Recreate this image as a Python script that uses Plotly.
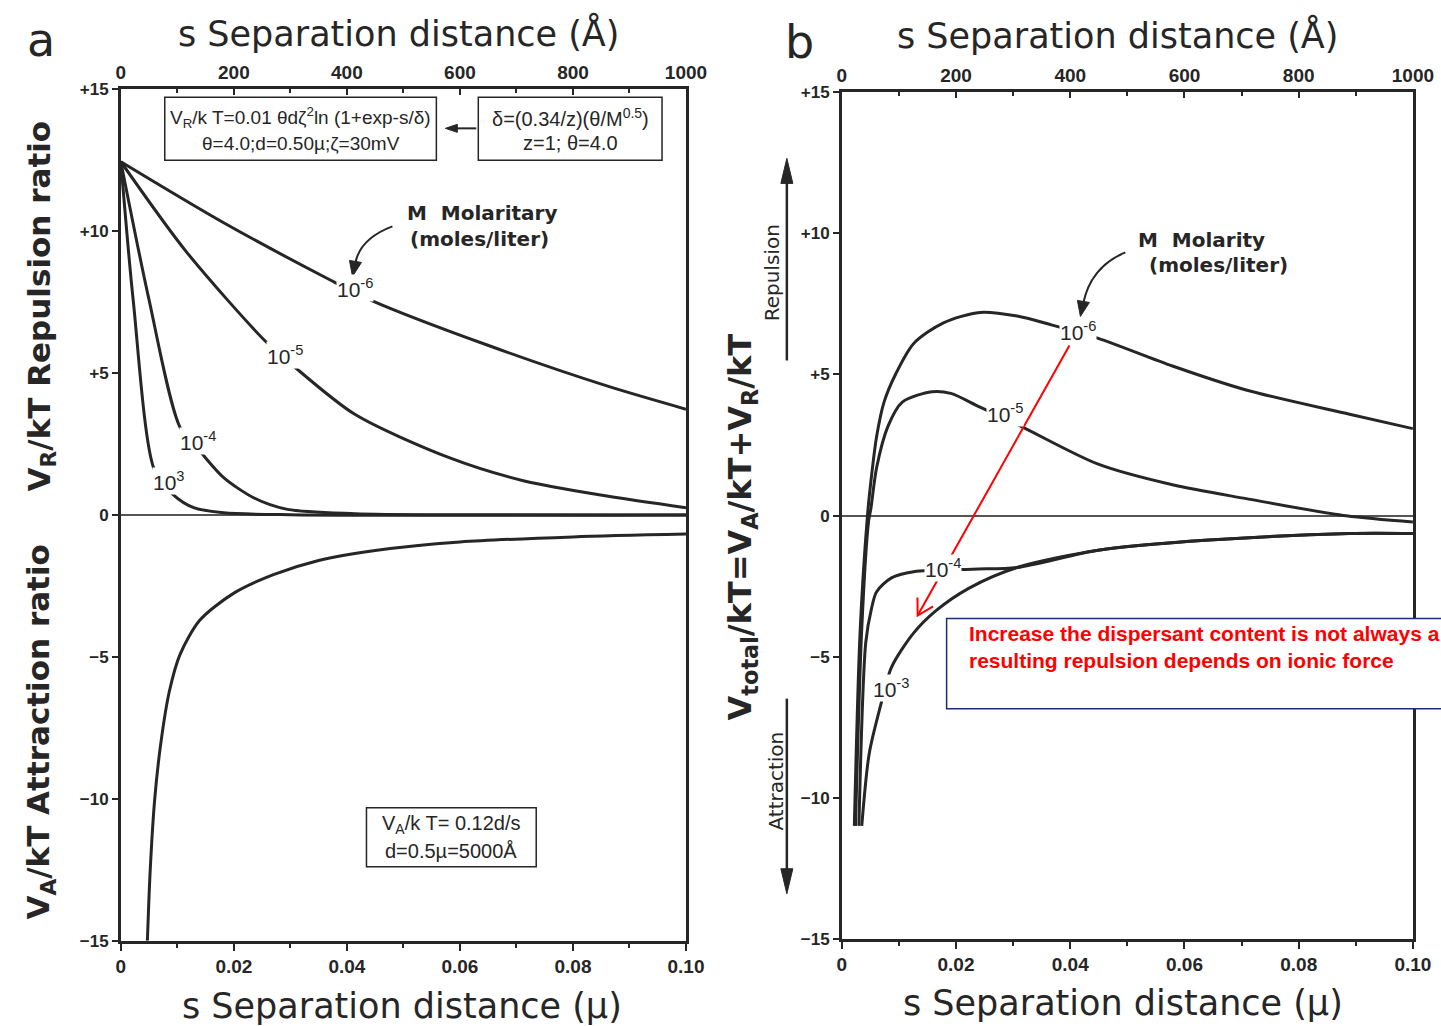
import plotly.graph_objects as go

W, H = 1441, 1026

# ---------------- data ----------------
# Panel a : repulsion V_R/kT for each molarity (x in micron)
a6_x = [0.0, 0.0182, 0.0368, 0.0445, 0.0647, 0.0860, 0.100]
a6_y = [12.45, 10.3, 8.31, 7.55, 6.0, 4.55, 3.73]
a5_x = [0.0, 0.0115, 0.0255, 0.0302, 0.0414, 0.0581, 0.0714, 0.0860, 0.100]
a5_y = [12.45, 9.3, 6.14, 5.31, 3.55, 2.02, 1.20, 0.67, 0.26]
a4_x = [0.0, 0.0049, 0.0105, 0.0142, 0.0182, 0.0235, 0.0295, 0.0414, 0.060, 0.100]
a4_y = [12.45, 7.67, 3.08, 2.20, 1.32, 0.61, 0.20, 0.05, 0.01, 0.0]
a3_x = [0.0, 0.0022, 0.0059, 0.0092, 0.0129, 0.0182, 0.030, 0.100]
a3_y = [12.45, 7.55, 1.61, 0.73, 0.26, 0.08, 0.01, 0.0]
# Panel a : attraction V_A/kT
aA_x = [0.0047, 0.0052, 0.0060, 0.0071, 0.0086, 0.0105, 0.0140, 0.020, 0.027, 0.035, 0.045, 0.060, 0.080, 0.100]
aA_y = [-15.0, -12.5, -10.0, -8.0, -6.2, -4.9, -3.7, -2.75, -2.1, -1.6, -1.25, -0.95, -0.77, -0.67]

# Panel b : total V/kT
b6_x = [0.0022, 0.0032, 0.0045, 0.0051, 0.0061, 0.0074, 0.0094, 0.0126, 0.0178, 0.0242,
        0.0307, 0.0365, 0.0449, 0.0579, 0.0708, 0.0889, 0.100]
b6_y = [-11.0, -4.16, 0.0, 1.21, 2.8, 4.02, 5.0, 6.1, 6.83, 7.2, 7.07, 6.77, 6.28, 5.30, 4.45, 3.59, 3.08]
b5_x = [0.0024, 0.0035, 0.0047, 0.0051, 0.0061, 0.0081, 0.0106, 0.0158, 0.0191, 0.0242,
        0.0313, 0.0449, 0.0579, 0.0708, 0.0883, 0.100]
b5_y = [-11.0, -4.0, -0.2, 0.25, 1.7, 3.17, 4.02, 4.39, 4.33, 3.84, 3.17, 1.82, 1.09, 0.60, -0.01, -0.23]
b4_x = [0.0030, 0.0042, 0.0052, 0.0061, 0.0087, 0.0126, 0.0229, 0.0307, 0.0449, 0.0643, 0.0889, 0.100]
b4_y = [-11.0, -4.5, -3.3, -2.7, -2.21, -1.99, -1.90, -1.84, -1.23, -0.87, -0.64, -0.64]
b3_x = [0.0035, 0.0048, 0.0068, 0.0087, 0.0126, 0.0165, 0.0223, 0.0307, 0.0449, 0.0643, 0.0889, 0.100]
b3_y = [-11.0, -8.44, -6.73, -5.38, -4.16, -3.37, -2.57, -1.84, -1.23, -0.87, -0.64, -0.64]

# curve labels: (x, y, exponent)
a_labels = [(0.0415, 8.0, "-6"), (0.0290, 5.65, "-5"), (0.0136, 2.6, "-4"), (0.0085, 1.2, "3")]
b_labels = [(0.0413, 6.55, "-6"), (0.0285, 3.65, "-5"), (0.0177, -1.85, "-4"), (0.0087, -6.1, "-3")]

x_ticks = [0, 0.02, 0.04, 0.06, 0.08, 0.10]
x_ticktext = ["0", "0.02", "0.04", "0.06", "0.08", "0.10"]
top_ticks = [0, 200, 400, 600, 800, 1000]
y_ticks = [-15, -10, -5, 0, 5, 10, 15]
y_ticktext = ["\u221215", "\u221210", "\u22125", "0", "+5", "+10", "+15"]

# ---------------- figure ----------------
# The photographed page comes out slightly scaled; positions below are in
# reference-picture pixels and are mapped back to paper fractions.
SX, OX = 0.9834, 4.0
SY, OY = 0.981, 8.7


def px(x):
    return ((x - OX) / SX) / W


def py(y):
    return 1 - ((y - OY) / SY) / H


INK = "#262626"
FONT = "Liberation Sans, Arial, sans-serif"
WIDE = "DejaVu Sans, Liberation Sans, sans-serif"

fig = go.Figure()
line = dict(color=INK, width=3, shape="spline", smoothing=0.8)
for xs, ys in [(a6_x, a6_y), (a5_x, a5_y), (a4_x, a4_y), (a3_x, a3_y), (aA_x, aA_y)]:
    fig.add_trace(go.Scatter(x=xs, y=ys, mode="lines", line=line, xaxis="x", yaxis="y",
                             showlegend=False, hoverinfo="skip"))
for xs, ys in [(b6_x, b6_y), (b5_x, b5_y), (b4_x, b4_y), (b3_x, b3_y)]:
    fig.add_trace(go.Scatter(x=xs, y=ys, mode="lines", line=line, xaxis="x2", yaxis="y2",
                             showlegend=False, hoverinfo="skip"))
# invisible traces to attach the top (Angstrom) axes
fig.add_trace(go.Scatter(x=[0, 1000], y=[0, 0], mode="lines", line=dict(width=0),
                         xaxis="x3", yaxis="y", showlegend=False, hoverinfo="skip"))
fig.add_trace(go.Scatter(x=[0, 1000], y=[0, 0], mode="lines", line=dict(width=0),
                         xaxis="x4", yaxis="y2", showlegend=False, hoverinfo="skip"))

dom_ax = [px(120), px(686)]
dom_ay = [py(940), py(89)]
dom_bx = [px(842), px(1414)]
dom_by = [py(938), py(92)]

xtickfont = dict(family=FONT, size=19, color=INK, weight="bold")
ytickfont = dict(family=FONT, size=17, color=INK, weight="bold")
xcommon = dict(range=[0, 0.1], tickvals=x_ticks, ticktext=x_ticktext, ticks="outside",
               ticklen=7, tickwidth=2, tickcolor=INK, showline=True, linecolor=INK, linewidth=2.5,
               showgrid=False, zeroline=False, tickfont=xtickfont,
               minor=dict(ticks="outside", ticklen=4, tickwidth=1.5, tickcolor=INK, dtick=0.01))
topcommon = dict(range=[0, 1000], tickvals=top_ticks, side="top", ticks="inside",
                 ticklen=6, tickwidth=2, tickcolor=INK, showline=True, linecolor=INK, linewidth=2.5,
                 showgrid=False, zeroline=False, tickfont=xtickfont,
                 minor=dict(ticks="inside", ticklen=4, tickwidth=1.5, tickcolor=INK, dtick=100))
ycommon = dict(range=[-15, 15], tickvals=y_ticks, ticktext=y_ticktext, ticks="outside",
               ticklen=6, tickwidth=2, tickcolor=INK, showline=True, linecolor=INK, linewidth=2.5,
               mirror=True, showgrid=False, zeroline=True, zerolinecolor="#555555",
               zerolinewidth=2, tickfont=ytickfont)

fig.update_layout(
    width=W, height=H, margin=dict(l=0, r=0, t=0, b=0), autosize=False,
    paper_bgcolor="white", plot_bgcolor="white",
    xaxis=dict(domain=dom_ax, anchor="y", **xcommon),
    yaxis=dict(domain=dom_ay, anchor="x", **ycommon),
    xaxis2=dict(domain=dom_bx, anchor="y2", **xcommon),
    yaxis2=dict(domain=dom_by, anchor="x2", **ycommon),
    xaxis3=dict(overlaying="x", anchor="y", **topcommon),
    xaxis4=dict(overlaying="x2", anchor="y2", **topcommon),
)

ann = []
shapes = []


def text(x, y, s, size=16, angle=0, color=INK, xanchor="center", yanchor="middle",
         bold=False, family=FONT, align="center"):
    ann.append(dict(x=px(x), y=py(y), xref="paper", yref="paper", text=s, showarrow=False,
                    textangle=angle, xanchor=xanchor, yanchor=yanchor, align=align,
                    font=dict(family=family, size=size, color=color,
                              weight="bold" if bold else "normal")))


# panel letters and axis titles
text(40, 40, "a", size=46, family=WIDE)
text(800, 42, "b", size=46, family=WIDE)
text(398, 33, "s Separation distance (\u00c5)", size=35, family=WIDE)
text(1118, 35, "s Separation distance (\u00c5)", size=35, family=WIDE)
text(402, 1005, "s Separation distance (\u00b5)", size=35, family=WIDE)
text(1124, 1002, "s Separation distance (\u00b5)", size=35, family=WIDE)
text(40, 305, "V<sub>R</sub>/kT Repulsion ratio", size=31, angle=-90, family=WIDE, bold=True)
text(40, 731, "V<sub>A</sub>/kT Attraction ratio", size=31, angle=-90, family=WIDE, bold=True)
text(742, 526, "V<sub>total</sub>/kT=V<sub>A</sub>/kT+V<sub>R</sub>/kT", size=32, angle=-90,
     family=WIDE, bold=True)
text(773, 272, "Repulsion", size=20, angle=-90, family=WIDE)
text(776, 780, "Attraction", size=20, angle=-90, family=WIDE)

# formula boxes
for (x0, y0, x1, y1) in [(164, 97, 436, 160), (478, 97, 662, 160), (366, 807, 536, 866)]:
    shapes.append(dict(type="rect", xref="paper", yref="paper", x0=px(x0), x1=px(x1),
                       y0=py(y1), y1=py(y0), line=dict(color=INK, width=1.5),
                       fillcolor="white"))
text(300, 117, "V<sub>R</sub>/k T=0.01 \u03b8d\u03b6<sup>2</sup>ln (1+exp-s/\u03b4)", size=19)
text(300, 143, "\u03b8=4.0;d=0.50\u00b5;\u03b6=30mV", size=19)
text(570, 117, "\u03b4=(0.34/z)(\u03b8/M<sup>0.5</sup>)", size=20)
text(570, 143, "z=1; \u03b8=4.0", size=20)
text(451, 824, "V<sub>A</sub>/k T= 0.12d/s", size=20)
text(451, 850, "d=0.5\u00b5=5000\u00c5", size=20)

# Molarity notes
text(482, 213, "M  Molaritary", size=20, family=WIDE, bold=True)
text(479, 239, "(moles/liter)", size=20, family=WIDE, bold=True)
text(1202, 240, "M  Molarity", size=20, family=WIDE, bold=True)
text(1219, 265, "(moles/liter)", size=20, family=WIDE, bold=True)

# curve labels (white background breaks the line)
for (x, y, e) in a_labels:
    ann.append(dict(x=x, y=y, xref="x", yref="y", text="10<sup>%s</sup>" % e, showarrow=False,
                    bgcolor="white", borderpad=0,
                    font=dict(family=FONT, size=21, color=INK)))
for (x, y, e) in b_labels:
    ann.append(dict(x=x, y=y, xref="x2", yref="y2", text="10<sup>%s</sup>" % e, showarrow=False,
                    bgcolor="white", borderpad=0,
                    font=dict(family=FONT, size=21, color=INK)))


def path(pts, closed=False):
    s = "M %f,%f" % (px(pts[0][0]), py(pts[0][1]))
    for p in pts[1:]:
        s += " L %f,%f" % (px(p[0]), py(p[1]))
    if closed:
        s += " Z"
    return s


# black arrows
shapes.append(dict(type="path", xref="paper", yref="paper",
                   path="M %f,%f Q %f,%f %f,%f" % (px(392), py(226), px(360), py(238), px(355), py(262)),
                   line=dict(color=INK, width=2)))
shapes.append(dict(type="path", xref="paper", yref="paper",
                   path=path([(349, 260), (361, 262), (352, 276)], True),
                   fillcolor=INK, line=dict(color=INK, width=1)))
shapes.append(dict(type="path", xref="paper", yref="paper",
                   path="M %f,%f Q %f,%f %f,%f" % (px(1126), py(252), px(1092), py(266), px(1084), py(302)),
                   line=dict(color=INK, width=2)))
shapes.append(dict(type="path", xref="paper", yref="paper",
                   path=path([(1078, 300), (1090, 302), (1081, 316)], True),
                   fillcolor=INK, line=dict(color=INK, width=1)))
# small arrow between the formula boxes
shapes.append(dict(type="path", xref="paper", yref="paper", path=path([(476, 128), (455, 128)]),
                   line=dict(color=INK, width=2)))
shapes.append(dict(type="path", xref="paper", yref="paper",
                   path=path([(445, 128), (457, 124), (457, 132)], True),
                   fillcolor=INK, line=dict(color=INK, width=1)))
# repulsion / attraction arrows
shapes.append(dict(type="path", xref="paper", yref="paper", path=path([(787, 360), (787, 175)]),
                   line=dict(color=INK, width=2.5)))
shapes.append(dict(type="path", xref="paper", yref="paper",
                   path=path([(787, 158), (781, 183), (793, 183)], True),
                   fillcolor=INK, line=dict(color=INK, width=1)))
shapes.append(dict(type="path", xref="paper", yref="paper", path=path([(787, 698), (787, 875)]),
                   line=dict(color=INK, width=2.5)))
shapes.append(dict(type="path", xref="paper", yref="paper",
                   path=path([(787, 893), (781, 868), (793, 868)], True),
                   fillcolor=INK, line=dict(color=INK, width=1)))

# red comment box and arrow
shapes.append(dict(type="rect", xref="paper", yref="paper", x0=px(947), x1=px(1470),
                   y0=py(708), y1=py(618), line=dict(color="#1a2f6e", width=1.5),
                   fillcolor="white"))
text(967, 646, "Increase the dispersant content is not always a<br>"
               "resulting repulsion depends on ionic force",
     size=21, color="#ff0000", bold=True, xanchor="left", align="left")
shapes.append(dict(type="path", xref="paper", yref="paper", path=path([(1070, 345), (918, 615)]),
                   line=dict(color="#ff0000", width=2)))
shapes.append(dict(type="path", xref="paper", yref="paper",
                   path=path([(933.5, 605.8), (918, 615), (917.8, 597)]),
                   line=dict(color="#ff0000", width=2)))

fig.update_layout(annotations=ann, shapes=shapes)
fig.write_html("out.html")
